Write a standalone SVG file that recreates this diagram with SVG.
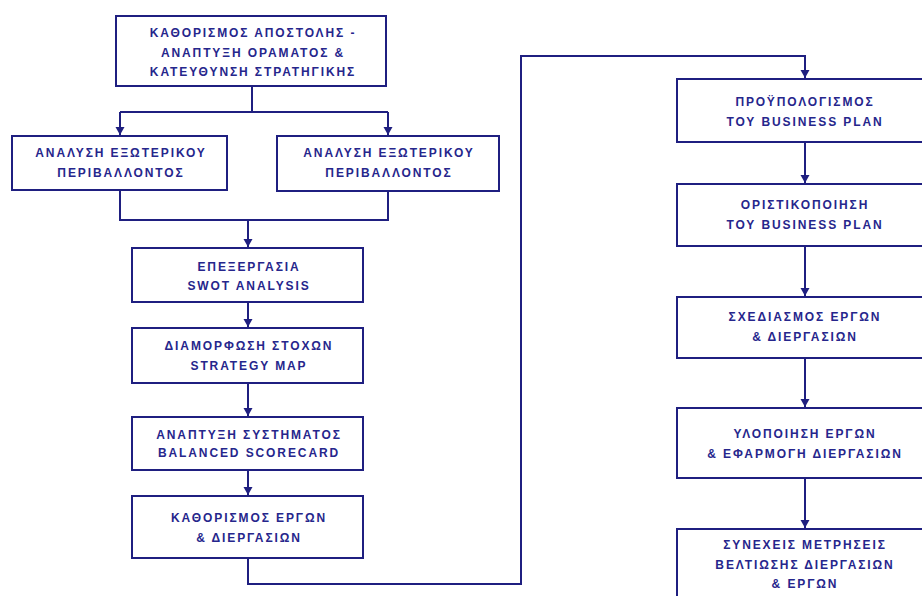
<svg xmlns="http://www.w3.org/2000/svg" width="922" height="596" viewBox="0 0 922 596">
<defs>
<style>
.box{fill:#ffffff;stroke:#1f1f80;stroke-width:2}
.ln{fill:none;stroke:#1f1f80;stroke-width:2}
text{font-family:"Liberation Sans",Arial,sans-serif;font-size:12px;font-weight:bold;fill:#26268c;letter-spacing:1.9px;text-anchor:middle}
</style>
<marker id="ah" markerUnits="userSpaceOnUse" markerWidth="10" markerHeight="10" refX="8" refY="4.5" orient="auto">
<path d="M0,0 L8,4.5 L0,9 z" fill="#1f1f80"/>
</marker>
</defs>
<rect width="922" height="596" fill="#ffffff"/>
<g id="connectors">
<path class="ln" d="M252,86 V112 M120,112 H388"/>
<path class="ln" d="M120,112 V135" marker-end="url(#ah)"/>
<path class="ln" d="M388,112 V135" marker-end="url(#ah)"/>
<path class="ln" d="M120,190 V220 H388 V191"/>
<path class="ln" d="M248,220 V247" marker-end="url(#ah)"/>
<path class="ln" d="M248,302 V327" marker-end="url(#ah)"/>
<path class="ln" d="M248,383 V416" marker-end="url(#ah)"/>
<path class="ln" d="M248,470 V495" marker-end="url(#ah)"/>
<path class="ln" d="M248,558 V584 H521 V56 H805 V78" marker-end="url(#ah)"/>
<path class="ln" d="M805,142 V183" marker-end="url(#ah)"/>
<path class="ln" d="M805,246 V296" marker-end="url(#ah)"/>
<path class="ln" d="M805,358 V407" marker-end="url(#ah)"/>
<path class="ln" d="M805,478 V528" marker-end="url(#ah)"/>
</g>
<g id="n1"><rect class="box" x="116" y="16" width="270" height="70"/>
<text x="253" y="37">ΚΑΘΟΡΙΣΜΟΣ ΑΠΟΣΤΟΛΗΣ -</text><text x="253" y="57">ΑΝΑΠΤΥΞΗ ΟΡΑΜΑΤΟΣ &amp;</text><text x="253" y="76">ΚΑΤΕΥΘΥΝΣΗ ΣΤΡΑΤΗΓΙΚΗΣ</text></g>
<g id="n2"><rect class="box" x="12" y="136" width="215" height="54"/>
<text x="121" y="157">ΑΝΑΛΥΣΗ ΕΞΩΤΕΡΙΚΟΥ</text><text x="121" y="177">ΠΕΡΙΒΑΛΛΟΝΤΟΣ</text></g>
<g id="n3"><rect class="box" x="277" y="136" width="222" height="55"/>
<text x="389" y="157">ΑΝΑΛΥΣΗ ΕΞΩΤΕΡΙΚΟΥ</text><text x="389" y="177">ΠΕΡΙΒΑΛΛΟΝΤΟΣ</text></g>
<g id="n4"><rect class="box" x="132" y="248" width="231" height="54"/>
<text x="249" y="271">ΕΠΕΞΕΡΓΑΣΙΑ</text><text x="249" y="290">SWOT ANALYSIS</text></g>
<g id="n5"><rect class="box" x="132" y="328" width="231" height="55"/>
<text x="249" y="350">ΔΙΑΜΟΡΦΩΣΗ ΣΤΟΧΩΝ</text><text x="249" y="370">STRATEGY MAP</text></g>
<g id="n6"><rect class="box" x="132" y="417" width="231" height="53"/>
<text x="249" y="439">ΑΝΑΠΤΥΞΗ ΣΥΣΤΗΜΑΤΟΣ</text><text x="249" y="457">BALANCED SCORECARD</text></g>
<g id="n7"><rect class="box" x="132" y="496" width="231" height="62"/>
<text x="249" y="522">ΚΑΘΟΡΙΣΜΟΣ ΕΡΓΩΝ</text><text x="249" y="542">&amp; ΔΙΕΡΓΑΣΙΩΝ</text></g>
<g id="n8"><rect class="box" x="677" y="79" width="258" height="63"/>
<text x="805" y="106">ΠΡΟΫΠΟΛΟΓΙΣΜΟΣ</text><text x="805" y="126">ΤΟΥ BUSINESS PLAN</text></g>
<g id="n9"><rect class="box" x="677" y="184" width="258" height="62"/>
<text x="805" y="209">ΟΡΙΣΤΙΚΟΠΟΙΗΣΗ</text><text x="805" y="229">ΤΟΥ BUSINESS PLAN</text></g>
<g id="n10"><rect class="box" x="677" y="297" width="258" height="61"/>
<text x="805" y="321">ΣΧΕΔΙΑΣΜΟΣ ΕΡΓΩΝ</text><text x="805" y="341">&amp; ΔΙΕΡΓΑΣΙΩΝ</text></g>
<g id="n11"><rect class="box" x="677" y="408" width="258" height="70"/>
<text x="805" y="438">ΥΛΟΠΟΙΗΣΗ ΕΡΓΩΝ</text><text x="805" y="458">&amp; ΕΦΑΡΜΟΓΗ ΔΙΕΡΓΑΣΙΩΝ</text></g>
<g id="n12"><rect class="box" x="677" y="529" width="258" height="80"/>
<text x="805" y="549">ΣΥΝΕΧΕΙΣ ΜΕΤΡΗΣΕΙΣ</text><text x="805" y="569">ΒΕΛΤΙΩΣΗΣ ΔΙΕΡΓΑΣΙΩΝ</text><text x="805" y="588">&amp; ΕΡΓΩΝ</text></g>
</svg>
